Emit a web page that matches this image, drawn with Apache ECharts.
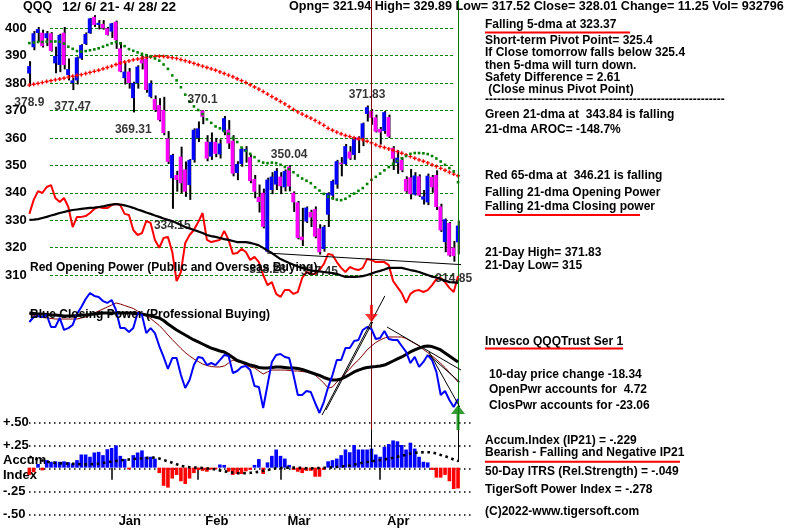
<!DOCTYPE html>
<html><head><meta charset="utf-8">
<script src="https://cdn.jsdelivr.net/npm/echarts@6/dist/echarts.min.js"></script>
<style>html,body{margin:0;padding:0;background:#fff}#c{width:800px;height:528px}</style>
</head><body><div id="c"></div>
<script>
// ---------------- DATA ----------------
const dates = ['12/6/21','12/7/21','12/8/21','12/9/21','12/10/21','12/13/21','12/14/21','12/15/21','12/16/21','12/17/21',
'12/20/21','12/21/21','12/22/21','12/23/21','12/27/21','12/28/21','12/29/21','12/30/21','12/31/21',
'1/3/22','1/4/22','1/5/22','1/6/22','1/7/22','1/10/22','1/11/22','1/12/22','1/13/22','1/14/22','1/18/22','1/19/22','1/20/22','1/21/22','1/24/22','1/25/22','1/26/22','1/27/22','1/28/22','1/31/22',
'2/1/22','2/2/22','2/3/22','2/4/22','2/7/22','2/8/22','2/9/22','2/10/22','2/11/22','2/14/22','2/15/22','2/16/22','2/17/22','2/18/22','2/22/22','2/23/22','2/24/22','2/25/22','2/28/22',
'3/1/22','3/2/22','3/3/22','3/4/22','3/7/22','3/8/22','3/9/22','3/10/22','3/11/22','3/14/22','3/15/22','3/16/22','3/17/22','3/18/22','3/21/22','3/22/22','3/23/22','3/24/22','3/25/22','3/28/22','3/29/22','3/30/22','3/31/22',
'4/1/22','4/4/22','4/5/22','4/6/22','4/7/22','4/8/22','4/11/22','4/12/22','4/13/22','4/14/22','4/18/22','4/19/22','4/20/22','4/21/22','4/22/22','4/25/22','4/26/22','4/27/22','4/28/22'];

const opens = [383.5,393.1,398.3,398.4,396.4,398.2,387.2,386.6,398.4,382.9,380,381,389,394.3,398.2,404.2,401.2,401.6,400,
398.8,402.4,392.7,381.8,384.2,374.5,380,388.7,389,375,374.2,372,370.2,359.8,345.3,346.5,353.2,348.5,342.8,352,
360,370,358.6,353.2,358.6,354,362.3,363,359,347.2,350.5,355,353,345,338.5,340,318.5,341,343,
345.9,342,349.5,340,336.5,324,329.5,333,334,327,319.5,332,339,343,351,350.5,355,353.8,360.2,359.9,368.8,369.8,367.5,
363.3,362.5,367.6,356.4,350.8,352,345,345.6,339.3,346,337.5,336.5,345.8,346.5,335,322,329,320,321.94];
const closes = [386.2,398.2,399.7,393.5,398.2,391.8,389.9,397.6,386.6,385.1,381,389.4,393.9,397.9,403.6,401.2,402,400,397.6,
401.8,395.7,384.2,384.2,380,380,386,387.2,377.5,380,370.2,366.5,361.8,351.3,353.8,344.7,343.5,340.4,352,363,
363.5,367.7,352.5,358.6,354.2,358,367.2,358,347,350.5,356,356,344.3,340.4,336.6,327.6,344.8,345.9,348,
342.4,347.9,342.3,336.5,323.5,322.7,334.6,331,324,318.3,327.6,339.8,344.3,351.5,350.4,357,352.5,359.6,359.2,365.3,371.2,367.4,362.3,
362,369.4,360.5,352.4,352.8,348.2,340.5,339.5,346.3,339,338.7,346.2,342,334.8,326.3,330.3,317.1,316.9,328.01];
const lows = [378.9,392,395,393,393.5,391.5,383.6,384,385,381,377.47,379.5,388.5,393.9,398,400.5,399.6,399.5,397.4,
396.5,392.5,384,379.5,378,369.31,378,385,376.5,374.5,369.5,366,361,350.5,334.15,340.4,339.7,338.5,337.4,351,
358.5,365,351.5,352,353,352.5,361,356,346,344.6,349.5,351,343.5,338,332.8,327,318.28,339.5,341,
339.5,340.5,340.5,333,323,320.6,329,327.5,323.4,317.45,318.5,327.5,337.5,341.5,346,350,352,352,354.5,357,366,364.8,362,
357.6,361.5,360,348.3,346.9,347.5,340,337.6,339,338.5,335.7,335.5,340,333.7,325.7,318.3,316.7,314.85,317.52];
const highs = [388,399,400.5,399.5,399,398.6,393.3,398,400.5,389,382,389.7,394.2,398.5,403.8,404.8,403,403,400.5,
402,402.8,395,387.5,385.5,380.5,386.5,390,390.5,381,375.5,374.5,375,362.5,354.2,348,356.8,351.4,352.3,363.5,
366,370.1,361,362,360,359.5,368,366.5,361,351.5,356.3,357,354,346.5,343,341.5,345.5,347.5,349,
347.5,348.5,350.04,340.5,337,334.5,335,333.8,335,328.5,328.2,340.2,344.8,352,353,357.8,357,359.9,360.6,365.6,371.83,370.5,368.5,
364,369.8,368.5,357,355.5,353,346,348.7,347.5,346.7,341,347,346.5,348.2,336,330.6,329.3,322.4,329.89];

// 21-dma (green) and 65-dma (red)
const ma21 = [394.6,394.8,395,395,395.1,395.2,395.2,395.1,394.4,393.3,392.5,391.7,391.5,391.7,392,392.3,392.7,393.3,393.9,394.5,
395,394.5,393.5,392.4,391.8,391.2,390.7,390.2,389.7,389,388.2,386.8,385.2,382.8,381,378.5,375.8,373.3,371.5,370.2,
368.7,366.8,365.5,364.2,363.5,362.5,361.5,360,358.5,356.5,355.3,354.2,353,351.6,351,350.8,351,350.8,350.2,349.4,
348.6,347.5,346.3,345.2,344.4,343.5,342,340.8,339.6,338.6,338,337.5,337.3,337.8,338.8,339.7,340.7,341.7,343.2,344.7,
345.8,347,348.2,349.4,350.6,351.6,352.6,353.4,354.2,354.5,354.5,354.4,354.1,353.4,352.5,351.4,350.2,349,347.8,343.84];
const ma65 = [379.3,379.6,379.9,380.2,380.6,380.9,381.2,381.5,381.8,382.2,382.5,382.8,383.1,383.5,383.9,384.3,384.7,385.2,385.7,386.2,
386.8,387.3,387.7,388.1,388.5,388.8,389.1,389.4,389.6,389.7,389.8,389.7,389.5,389.3,389,388.6,388.2,387.7,387.2,386.7,
386.2,385.7,385.2,384.7,384.1,383.5,382.9,382.3,381.6,380.9,380.2,379.4,378.6,377.8,376.9,376,375.1,374.2,373.3,372.4,
371.4,370.4,369.5,368.7,367.9,367.2,366.4,365.5,364.6,363.5,362.8,362.1,361.5,360.9,360.5,360.1,359.7,359.3,358.8,358.2,
357.5,356.9,356.5,356,355.5,355,354.4,353.8,353.2,352.6,352,351.5,350.9,350.2,349.6,348.9,348.2,347.5,346.8,346.21];

// Red Opening Power and its black average (drawn on the price scale)
const openPower = [332.3,337.4,340.6,339.9,342.1,342.8,338.1,336.6,338.1,334.8,327.5,331.2,331.2,331.5,332.6,334.1,334.8,334.4,334.4,335.5,
335.9,335.5,332.3,331.9,326.4,324.6,325.3,329.7,329,322.8,319.9,323.5,323.9,318.4,307.8,311.1,321.7,324.6,326.4,329.3,
332.6,322.8,322,322.4,322.8,326.1,322.8,317.7,318,319.5,318.4,315.5,316.6,314.7,310,306.3,307.4,303.1,302,304.5,
304.5,303.1,303.8,308.9,311.1,310.4,310.4,311.8,314,317.7,317.3,314.7,312.6,311.1,312.9,312.2,311.8,312.6,315.8,315.5,
314.7,314.7,314.7,313.6,307.8,305.6,303.4,299.8,303.1,304.2,304.5,303.8,304.5,306.3,308.5,308.9,307.4,305.3,303.8,309.6];
const openPowerMA = [330.1,330.2,330.4,330.8,331.2,331.7,332.1,332.6,333,333.4,333.7,333.9,334.1,334.3,334.5,334.6,334.8,335,335.4,335.7,
335.9,335.7,335.4,335,334.5,333.9,333.4,332.8,332.3,331.7,331.2,330.6,330.1,329.7,329,328.2,327.5,327,326.4,325.9,
325.3,324.6,324.2,323.9,323.5,323.1,322.8,322.4,322,322,322,321.7,321.3,320.8,319.9,318.9,318,316.9,315.8,315.1,
314.4,313.7,313.1,312.6,312,311.6,311.5,311.3,311.1,310.9,310.7,310.4,309.8,309.3,309.3,309.3,309.4,309.6,310,310.5,
311.1,311.5,312,312.6,312.6,312.6,312.6,312.2,311.8,311.5,311.1,310.5,310,309.4,309.1,308.5,308,307.4,307.3,307.1];

// Blue Closing Power (0-100 panel scale) and its two averages
const closePower = [72.6,76.3,77,76.3,77.8,68.9,68.9,75.6,66.7,68.1,70.4,78.5,83.7,89.6,94.1,91.9,91.1,88.1,86.7,88.9,
81.5,68.1,68.1,65.2,68.1,79.3,77.8,64.4,68.1,64.4,54.8,46.7,37.8,45.9,45.9,33.3,23.7,29.6,40.7,46.7,
45.9,40.7,42.2,40.7,44.4,48.1,47.4,34.8,36.3,39.3,40,37,25.2,24.4,8.9,25.9,43,48.1,48.9,46.7,
45.9,33.3,18.5,18.5,21.5,20.7,12.6,5.2,13.3,24.4,33.3,44.4,44.4,53.3,53.3,58.5,59.3,66.7,68.9,67.4,
60,60.7,65.9,60,59.3,59.3,54.8,50.4,42.2,46.7,39.3,43,48.1,44.4,35.6,18.5,21.5,14.8,9.6,15.6];
const closePowerMA = [78.5,77.4,76.7,75.9,75.6,75.2,74.8,74.8,74.8,74.8,74.8,74.8,75.6,76.3,77.4,79.3,80.7,82.2,83.7,85.2,
86.7,85.9,84.8,83.7,82.6,80.7,78.9,77,75.2,72.6,70,66.7,63,59.6,56.3,53,50,47.4,45.2,43.3,
41.5,40.4,39.6,39.3,39.3,40,42.2,44.4,43.3,42.2,40.7,39.3,38.5,36.3,34.1,35.6,37,37,37,37,
36.7,36.3,36.3,35.9,35.6,35.6,33.3,30.4,27.4,23.7,24.4,28.1,31.1,34.8,37.8,41.5,44.4,48.1,51.9,54.8,
57.4,59.3,60.7,61.5,61.5,61.5,61.5,60.4,58.5,56.7,54.8,52.2,50,47.4,44.8,41.9,38.9,35.2,31.9,28.1];
const closePowerMA2 = [79.3,78.9,78.5,78.5,78.1,77.8,77.8,77.4,77,77,77,77.4,77.8,77.8,78.1,78.5,78.9,79.3,79.3,79.3,
79.3,79.3,79.3,79.3,79.3,78.9,78.5,77.8,77.4,76.3,75.6,73.7,71.1,68.9,66.7,64.8,63,61.1,59.3,57.8,
56.3,54.8,53.3,52.2,51.1,50.4,48.5,46.3,44.1,43,41.9,40.7,40,38.9,38.5,38.5,38.9,39.3,39.3,38.9,
38.5,38.5,38.1,37.4,36.3,35.2,34.1,33,31.5,30.4,29.6,29.6,30.4,31.9,33.7,35.6,37,38.1,38.9,39.3,
39.6,40,40.7,42.2,43.7,45.2,46.7,48.5,50.4,51.9,53.3,54.4,54.8,54.4,53.3,51.9,49.6,47.4,45.2,43];

// Accumulation Index (IP21) bars and its dotted average
const accum = [-0.08,-0.05,0.04,-0.03,0.083,0.065,0.07,0.065,0.07,0.06,0.047,0.083,0.145,0.145,0.12,0.167,0.174,0.138,0.203,0.217,
0.246,0.13,0.094,-0.02,0.138,0.167,0.19,0.12,0.12,0.1,-0.06,-0.2,-0.22,-0.12,-0.08,-0.15,-0.18,-0.12,-0.06,-0.025,
-0.035,-0.045,-0.02,-0.02,0.035,0.03,-0.045,-0.08,-0.07,-0.07,-0.04,-0.025,0.03,0.094,-0.07,0.058,0.13,0.2,0.13,0.1,
0.03,-0.025,-0.045,-0.06,-0.035,-0.035,-0.1,-0.1,-0.025,0.07,0.083,0.1,0.138,0.2,0.17,0.25,0.2,0.2,0.2,0.21,
0.145,0.12,0.23,0.26,0.3,0.29,0.25,0.2,0.275,0.21,0.12,0.065,0.058,-0.025,-0.11,-0.11,-0.08,-0.15,-0.235,-0.229];
const accumMA = [0.12,0.105,0.09,0.078,0.065,0.058,0.052,0.048,0.046,0.044,0.042,0.04,0.038,0.036,0.037,0.04,0.045,0.052,0.06,0.067,
0.074,0.08,0.085,0.09,0.095,0.1,0.102,0.106,0.11,0.112,0.1,0.085,0.07,0.055,0.038,0.02,0.012,0.005,0.002,0,
-0.004,-0.008,-0.011,-0.02,-0.03,-0.04,-0.048,-0.055,-0.06,-0.062,-0.06,-0.057,-0.054,-0.045,-0.035,-0.026,-0.016,-0.007,-0.004,-0.002,
0,0,0,-0.003,-0.006,-0.008,-0.006,-0.004,-0.002,0,0.003,0.008,0.013,0.017,0.025,0.035,0.045,0.054,0.062,0.07,
0.077,0.083,0.09,0.1,0.11,0.12,0.13,0.142,0.155,0.163,0.167,0.17,0.17,0.168,0.155,0.14,0.126,0.11,0.09,0.072];

// labelled highs / lows
const annotIdx = [0,10,24,33,55,67,98,40,78,60];
const annotVal = [378.9,377.47,369.31,334.15,318.28,317.45,314.85,370.1,371.83,350.04];
const annotSide = ['bottom','bottom','bottom','bottom','bottom','bottom','bottom','top','top','top'];

// hand-drawn trend lines on the Closing Power panel [dayIndex, panelValue]
const trendLines = [
  [[67.6,3.7],[82.1,91.9]],
  [[68.5,7.4],[79.3,72.6]],
  [[82.6,68.9],[105.2,26.7]],
  [[92.3,50.4],[99.4,9.6]],
  [[92.3,48.1],[99.4,28.1]]
];
// pointer line to "21-Day Low" text [dayIndex, price]
const lowPointer = [[54.9,318.0],[104.8,313.3]];
// arrows on Closing Power panel
const sellArrow = [79, 78.9];
const buyArrow = [99, 1.9];
// marked days (vertical lines)
const markDayA = 79, markDayB = 99;

// ---------------- CHART ----------------
const FONT = '"Liberation Sans", Arial, sans-serif';
const N = dates.length;
const L = 27.2, W = 433;
const pair = a => a.map((v, i) => [i, v]);
const monthName = {1:'Jan',2:'Feb',3:'Mar',4:'Apr',5:'May',12:'Dec'};
const isMonthStart = i => i > 0 && dates[i].split('/')[0] !== dates[i-1].split('/')[0];

const chart = echarts.init(document.getElementById('c'));

function candle(params, api) {
  const i = api.value(0);
  const pO = api.coord([i, api.value(1)]);
  const pC = api.coord([i, api.value(2)]);
  const pL = api.coord([i, api.value(3)]);
  const pH = api.coord([i, api.value(4)]);
  const up = api.value(2) >= api.value(1);
  const x = pO[0];
  const top = Math.min(pO[1], pC[1]);
  const h = Math.max(1, Math.abs(pO[1] - pC[1]));
  return {type: 'group', children: [
    {type: 'rect', shape: {x: x - 0.3, y: pH[1], width: 2, height: pL[1] - pH[1]}, style: {fill: '#000'}},
    {type: 'rect', shape: {x: x - 2.2, y: top, width: 3.6, height: h}, style: {fill: up ? '#0000FF' : '#FF00FF'}}
  ]};
}

const T = (x, y, text, opt, size) => Object.assign({type: 'text', x: x, y: y, z: 50,
  style: {text: text, fontFamily: FONT, fontSize: size || 12, fontWeight: 'bold', fill: '#000', verticalAlign: 'middle'}}, opt || {});
const U = (x1, x2, y, w) => ({type: 'line', z: 50, shape: {x1: x1, y1: y, x2: x2, y2: y}, style: {stroke: '#FF0000', lineWidth: w || 2}});

const graphics = [
  T(23, 7, 'QQQ', null, 12.5),
  T(62, 7, '12/ 6/ 21- 4/ 28/ 22', null, 13.6),
  T(289, 7, 'Opng= 321.94 High= 329.89 Low= 317.52 Close= 328.01 Change= 11.25 Vol= 932796', null, 12.6),
  T(485, 25, 'Falling 5-dma at 323.37'), U(485, 630, 32.5),
  T(485, 41, 'Short-term Pivot Point= 325.4'),
  T(485, 53, 'If Close tomorrow falls below 325.4'),
  T(485, 65.5, 'then 5-dma will turn down.'),
  T(485, 78, 'Safety Difference = 2.61'),
  T(485, 90, ' (Close minus Pivot Point)'),
  T(485, 100, '------------------------------------------------------------'),
  T(485, 115, 'Green 21-dma at  343.84 is falling'),
  T(485, 129.5, '21-dma AROC= -148.7%'),
  T(485, 175.7, 'Red 65-dma at  346.21 is falling'),
  T(485, 192.3, 'Falling 21-dma Opening Power'),
  T(485, 206.7, 'Falling 21-dma Closing power'), U(485, 640, 215),
  T(485, 252.3, '21-Day High= 371.83'),
  T(485, 265.7, '21-Day Low= 315'),
  T(485, 341.7, 'Invesco QQQTrust Ser 1'), U(485, 623, 348.5),
  T(489, 375, '10-day price change -18.34'),
  T(489, 389.3, 'OpenPwr accounts for  4.72'),
  T(489, 405.7, 'ClosPwr accounts for -23.06'),
  T(485, 441, 'Accum.Index (IP21) = -.229'),
  T(485, 452.7, 'Bearish - Falling and Negative IP21'), U(485, 680, 461.7),
  T(485, 471.7, '50-Day ITRS (Rel.Strength) = -.049'),
  T(485, 490, 'TigerSoft Power Index = -.278'),
  T(485, 511.7, '(C)2022-www.tigersoft.com'),
  T(30, 268, 'Red Opening Power (Public and Overseas Buying)', {z: 40}),
  T(30, 315, 'Blue Closing Power (Professional Buying)', {z: 40})
];

const series = [];
// price panel (xAxis 1 / yAxis 1)
series.push({type: 'custom', name: 'QQQ', xAxisIndex: 1, yAxisIndex: 1, z: 3,
  renderItem: candle, encode: {x: 0, y: [1, 2, 3, 4]},
  data: dates.map((d, i) => [i, opens[i], closes[i], lows[i], highs[i]])});
series.push({type: 'line', name: '65-dma', xAxisIndex: 1, yAxisIndex: 1, z: 4, data: pair(ma65),
  symbol: 'path://M1,0H2V1H3V2H2V3H1V2H0V1H1Z', symbolSize: 4, showAllSymbol: true,
  itemStyle: {color: '#FF0000'}, lineStyle: {opacity: 0}});
series.push({type: 'line', name: '21-dma', xAxisIndex: 1, yAxisIndex: 1, z: 4, data: pair(ma21),
  symbol: 'rect', symbolSize: 2.6, showAllSymbol: true,
  itemStyle: {color: '#008000'}, lineStyle: {opacity: 0}});
series.push({type: 'line', name: 'Opening Power', xAxisIndex: 1, yAxisIndex: 1, z: 5, data: pair(openPower),
  symbol: 'none', lineStyle: {color: '#FF0000', width: 2}});
series.push({type: 'line', name: 'Opening Power MA', xAxisIndex: 1, yAxisIndex: 1, z: 5, data: pair(openPowerMA),
  symbol: 'none', lineStyle: {color: '#000', width: 2.2}});
series.push({type: 'line', name: 'Low pointer', xAxisIndex: 1, yAxisIndex: 1, z: 5, data: lowPointer, clip: false,
  symbol: 'none', lineStyle: {color: '#000', width: 1}});
series.push({type: 'scatter', name: 'Labels', xAxisIndex: 1, yAxisIndex: 1, z: 30, symbolSize: 0,
  data: annotIdx.map((d, k) => ({value: [d, annotVal[k]],
    label: {show: true, position: annotSide[k], distance: annotSide[k] === 'top' ? 5 : 11,
      formatter: String(annotVal[k]), color: '#000', fontFamily: FONT, fontSize: 12, fontWeight: 'bold'}}))});
// closing power panel (xAxis 2 / yAxis 2)
series.push({type: 'line', name: 'CP MA short', xAxisIndex: 2, yAxisIndex: 2, z: 5, data: pair(closePowerMA),
  symbol: 'none', lineStyle: {color: '#800000', width: 1}});
series.push({type: 'line', name: 'CP MA long', xAxisIndex: 2, yAxisIndex: 2, z: 5, data: pair(closePowerMA2),
  symbol: 'none', lineStyle: {color: '#000', width: 3}});
series.push({type: 'line', name: 'Closing Power', xAxisIndex: 2, yAxisIndex: 2, z: 6, data: pair(closePower),
  symbol: 'none', lineStyle: {color: '#0000FF', width: 2}});
trendLines.forEach((tl, k) => series.push({type: 'line', name: 'trend' + k, xAxisIndex: 2, yAxisIndex: 2, z: 7,
  data: tl, clip: false, symbol: 'none', lineStyle: {color: '#000', width: 1}}));
series.push({type: 'scatter', name: 'Sell', xAxisIndex: 2, yAxisIndex: 2, z: 20, clip: false, data: [sellArrow],
  symbol: 'path://M5,0L8,0L8,9L13,9L6.5,17L0,9L5,9Z', symbolSize: [13, 17], itemStyle: {color: '#FF0000'}});
series.push({type: 'scatter', name: 'Buy', xAxisIndex: 2, yAxisIndex: 2, z: 20, clip: false, data: [buyArrow],
  symbol: 'path://M7,0L14,9L8.5,9L8.5,25L5.5,25L5.5,9L0,9Z', symbolSize: [14, 25], itemStyle: {color: '#008000'}});
// accumulation panel (xAxis 4 / yAxis 4)
series.push({type: 'bar', name: 'IP21', xAxisIndex: 4, yAxisIndex: 4, z: 3, barWidth: 3.6,
  data: accum.map(v => ({value: v, itemStyle: {color: v >= 0 ? '#0000FF' : '#FF0000'}}))});
series.push({type: 'line', name: 'IP21 MA', xAxisIndex: 4, yAxisIndex: 4, z: 4, data: accumMA,
  symbol: 'none', lineStyle: {color: '#000', width: 2.6, type: [2.6, 3.6]}});
// vertical marker lines
const ml = (color, x) => ({silent: true, symbol: ['none', 'none'], label: {show: false},
  lineStyle: {color: color, width: 1, type: 'solid'}, data: [{xAxis: x}]});
series.push({type: 'line', name: 'vA', xAxisIndex: 5, yAxisIndex: 5, z: 25, data: [], markLine: ml('#800000', markDayA)});
series.push({type: 'line', name: 'vB', xAxisIndex: 5, yAxisIndex: 5, z: 25, data: [], markLine: ml('#008000', markDayB)});
series.push({type: 'line', name: 'vA2', xAxisIndex: 6, yAxisIndex: 6, z: 25, data: [], markLine: ml('#000', markDayA)});
series.push({type: 'line', name: 'vB2', xAxisIndex: 6, yAxisIndex: 6, z: 25, data: [], markLine: ml('#000', markDayB)});

const hid = (g, min, max) => ({gridIndex: g, type: 'value', show: false, min: min, max: max});
const accumLabels = {'0.5': '+.50', '0.25': '+.25', '0': 'Accum\nIndex', '-0.25': '-.25', '-0.5': '-.50'};

chart.setOption({
  animation: false,
  backgroundColor: '#fff',
  grid: [
    {left: 50, width: 403, top: 28.3, height: 246.7},
    {left: L, width: W, top: 0.9, height: 328.9},
    {left: L, width: W, top: 285, height: 135},
    {left: 29, width: 443, top: 422.3, height: 92},
    {left: L, width: W, top: 422.3, height: 92},
    {left: L, width: W, top: 0, height: 430},
    {left: L, width: W, top: 430, height: 32}
  ],
  xAxis: [
    hid(0, 0, 1),
    hid(1, -0.5, N - 0.5),
    hid(2, -0.5, N - 0.5),
    hid(3, 0, 1),
    {gridIndex: 4, type: 'category', data: dates, boundaryGap: true, position: 'bottom',
      axisLine: {show: false},
      axisTick: {show: true, alignWithLabel: true, interval: (i) => isMonthStart(i), length: 12, lineStyle: {color: '#000', width: 1.5}},
      axisLabel: {interval: (i) => isMonthStart(i), formatter: (v) => monthName[+v.split('/')[0]],
        align: 'left', padding: [0, 0, 0, 7], margin: 2, color: '#000', fontFamily: FONT, fontSize: 13, fontWeight: 'bold'},
      splitLine: {show: false}},
    hid(5, -0.5, N - 0.5),
    hid(6, -0.5, N - 0.5)
  ],
  yAxis: [
    {gridIndex: 0, type: 'value', min: 310, max: 400, interval: 10,
      axisLine: {show: false}, axisTick: {show: false},
      splitLine: {show: true, lineStyle: {color: '#008000', type: [3, 2], width: 1}},
      axisLabel: {margin: 45, align: 'left', color: '#000', fontFamily: FONT, fontSize: 13, fontWeight: 'bold'}},
    hid(1, 290, 410),
    hid(2, 0, 100),
    {gridIndex: 3, type: 'value', min: -0.5, max: 0.5, interval: 0.25,
      axisLine: {show: false}, axisTick: {show: false},
      splitLine: {show: true, lineStyle: {color: '#000', type: [1.5, 3.5], width: 1.5}},
      axisLabel: {margin: 26, align: 'left', color: '#000', fontFamily: FONT, fontSize: 13, fontWeight: 'bold', lineHeight: 15,
        formatter: (v) => accumLabels[String(Math.round(v * 100) / 100)]}},
    hid(4, -0.5, 0.5),
    hid(5, 0, 1),
    hid(6, 0, 1)
  ],
  series: series,
  graphic: graphics
});
</script></body></html>
